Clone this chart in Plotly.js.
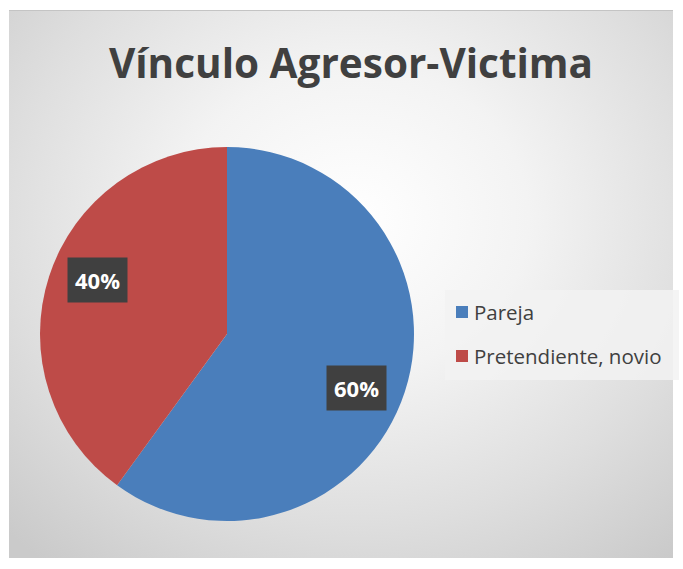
<!DOCTYPE html>
<html>
<head>
<meta charset="utf-8">
<script src="https://cdn.plot.ly/plotly-3.0.1.min.js"></script>
<style>
  html, body { margin: 0; padding: 0; background: #ffffff; }
  #wrap { position: relative; width: 683px; height: 569px; }
  #bg { position: absolute; left: 9px; top: 10px; width: 664px; height: 547px;
        background: radial-gradient(ellipse 75% 80% at 52% 38%, #ffffff 0%, #f3f3f3 35%, #dedede 70%, #cacaca 100%);
        border-top: 1px solid #c4c4c4; }
  #chart { position: absolute; left: 0; top: 0; width: 683px; height: 569px; }
</style>
</head>
<body>
<div id="wrap"><div id="bg"></div><div id="chart"></div></div>
<script>
const title = 'Vínculo Agresor-Victima';
const labels = ['Pareja', 'Pretendiente, novio'];
const values = [60, 40];
const colors = ['#4A7EBB', '#BE4B48'];

const W = 683, H = 569;
const cx = 227, cy = 334, R = 187;
const dom = { x: [(cx - R) / W, (cx + R) / W], y: [1 - (cy + R) / H, 1 - (cy - R) / H] };

// percentage labels positioned from slice angles (clockwise from 12 o'clock)
const total = values.reduce((a, b) => a + b, 0);
const labelAngleOffset = 4.5 * Math.PI / 180;
const annotations = [];
let acc = 0;
values.forEach((v, i) => {
  const mid = (acc + v / 2) / total * 2 * Math.PI + labelAngleOffset;
  acc += v;
  const r = 0.75 * R;
  const px = cx + r * Math.sin(mid);
  const py = cy - r * Math.cos(mid);
  annotations.push({
    x: px / W, y: 1 - py / H, xref: 'paper', yref: 'paper',
    xanchor: 'center', yanchor: 'middle',
    text: '<b>' + Math.round(v / total * 100) + '%</b>', showarrow: false,
    font: { family: 'Open Sans, sans-serif', size: 22, color: '#ffffff' },
    bgcolor: '#404040', borderpad: 7
  });
});

// custom legend
const shapes = [{
  type: 'rect', xref: 'paper', yref: 'paper',
  x0: 445 / W, x1: 679 / W, y0: 1 - 380 / H, y1: 1 - 290 / H,
  fillcolor: 'rgba(242,242,242,0.85)', line: { width: 0 }
}];
labels.forEach((lab, i) => {
  const yc = 312 + i * 44;
  shapes.push({
    type: 'rect', xref: 'paper', yref: 'paper',
    x0: 456 / W, x1: 468 / W, y0: 1 - (yc + 6) / H, y1: 1 - (yc - 6) / H,
    fillcolor: colors[i], line: { width: 0 }
  });
  annotations.push({
    x: 472 / W, y: 1 - yc / H, xref: 'paper', yref: 'paper',
    xanchor: 'left', yanchor: 'middle', text: lab, showarrow: false,
    font: { family: 'Open Sans, sans-serif', size: 20.5, color: '#404040' }
  });
});

const data = [{
  type: 'pie', labels: labels, values: values, sort: false,
  direction: 'clockwise', rotation: 0,
  marker: { colors: colors, line: { width: 0 } },
  textinfo: 'none', hoverinfo: 'label+percent',
  domain: dom, showlegend: false
}];

const layout = {
  width: W, height: H,
  margin: { l: 0, r: 0, t: 0, b: 0 },
  paper_bgcolor: 'rgba(0,0,0,0)', plot_bgcolor: 'rgba(0,0,0,0)',
  title: { text: '<b>' + title + '</b>', x: 351 / W, xanchor: 'center', y: 1 - 64 / H, yanchor: 'middle',
           font: { family: 'Open Sans, sans-serif', size: 40.5, color: '#404040' } },
  showlegend: false,
  annotations: annotations,
  shapes: shapes
};

Plotly.newPlot('chart', data, layout, { displayModeBar: false, staticPlot: true });
</script>
</body>
</html>
